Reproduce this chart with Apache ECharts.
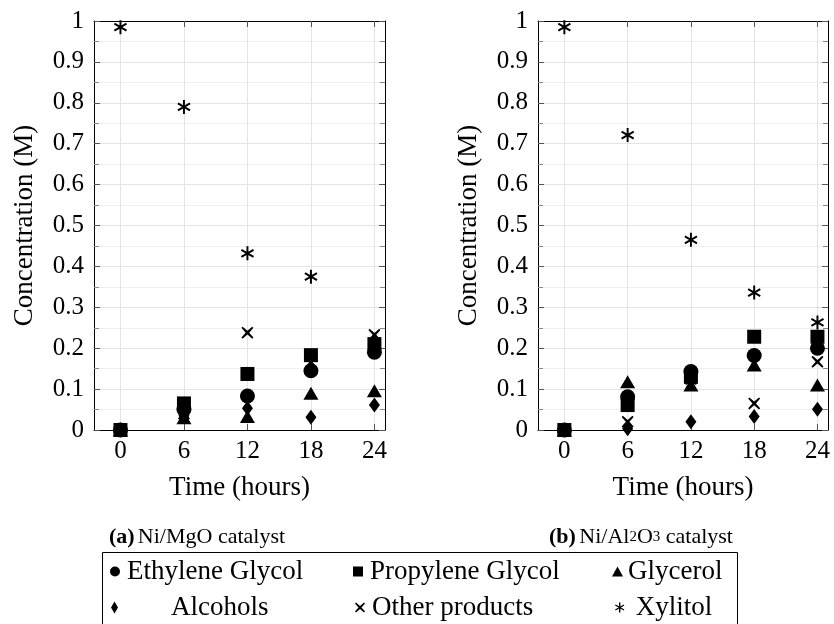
<!DOCTYPE html>
<html><head><meta charset="utf-8">
<script src="https://cdn.jsdelivr.net/npm/echarts@6/dist/echarts.min.js"></script>
<style>html,body{margin:0;padding:0;background:#fff}#c{width:834px;height:624px}</style>
</head><body><div id="c"></div>
<script>
// ---- data ----
const times = [0, 6, 12, 18, 24];
const xTicks = [0, 6, 12, 18, 24];
const seriesNames = ['Ethylene Glycol', 'Propylene Glycol', 'Glycerol', 'Alcohols', 'Other products', 'Xylitol'];
// (a) Ni/MgO
const mgoEthylene  = [0, 0.050, 0.083, 0.145, 0.190];
const mgoPropylene = [0, 0.065, 0.137, 0.183, 0.210];
const mgoGlycerol  = [0, 0.030, 0.033, 0.090, 0.096];
const mgoAlcohols  = [0, 0.035, 0.053, 0.031, 0.061];
const mgoOther     = [0, 0.040, 0.238, 0.165, 0.233];
const mgoXylitol   = [0.985, 0.790, 0.432, 0.375, 0.215];
// (b) Ni/Al2O3
const alEthylene  = [0, 0.081, 0.143, 0.182, 0.200];
const alPropylene = [0, 0.061, 0.130, 0.228, 0.228];
const alGlycerol  = [0, 0.118, 0.110, 0.159, 0.110];
const alAlcohols  = [0, 0.003, 0.020, 0.033, 0.051];
const alOther     = [0, 0.020, 0.125, 0.065, 0.167];
const alXylitol   = [0.985, 0.721, 0.465, 0.336, 0.263];

const panels = [
  [mgoEthylene, mgoPropylene, mgoGlycerol, mgoAlcohols, mgoOther, mgoXylitol],
  [alEthylene, alPropylene, alGlycerol, alAlcohols, alOther, alXylitol]
];

// ---- style ----
const FONT = '"Liberation Serif", "DejaVu Serif", serif';
const CROSS = 'path://M1,0L5,3.5L9,0L10,1L6.5,5L10,9L9,10L5,6.5L1,10L0,9L3.5,5L0,1Z';
const AST = 'path://M-0.7,-5L0.7,-5L0.7,5L-0.7,5Z M4.68,1.894L3.98,3.106L-4.68,-1.894L-3.98,-3.106Z M3.98,-3.106L4.68,-1.894L-3.98,3.106L-4.68,1.894Z';
const symbols = ['circle', 'rect', 'triangle', 'diamond', CROSS, AST];
const sizes = [15, 14, [15, 13], [11, 15], 12, 14];

const grids = [
  {left: 94, top: 21, width: 291, height: 409},
  {left: 538, top: 21, width: 290, height: 409}
];

function xAx(g, bottom) {
  return {
    type: 'value', gridIndex: g, position: bottom ? 'bottom' : 'top',
    min: -2.5, max: 25,
    name: bottom ? 'Time (hours)' : '', nameLocation: 'middle', nameGap: 44,
    nameTextStyle: {fontFamily: FONT, fontSize: 27, color: '#000'},
    axisLine: {show: true, onZero: false, lineStyle: {color: '#000', width: 1}},
    axisTick: {show: true, inside: true, length: 6, customValues: xTicks, lineStyle: {color: '#555'}},
    axisLabel: {show: bottom, customValues: xTicks, fontFamily: FONT, fontSize: 25, color: '#000', margin: 9},
    splitLine: {show: bottom, lineStyle: {color: '#e4e4e4', width: 1}}
  };
}
function yAx(g, left) {
  return {
    type: 'value', gridIndex: g, position: left ? 'left' : 'right',
    min: 0, max: 1, interval: 0.1,
    name: left ? 'Concentration (M)' : '', nameLocation: 'middle', nameGap: 56,
    nameTextStyle: {fontFamily: FONT, fontSize: 27, color: '#000'},
    axisLine: {show: true, onZero: false, lineStyle: {color: '#000', width: 1}},
    axisTick: {show: true, inside: true, length: 6, lineStyle: {color: '#555'}},
    minorTick: {show: true, splitNumber: 2, length: 5, lineStyle: {color: '#888'}},
    axisLabel: {show: left, fontFamily: FONT, fontSize: 25, color: '#000', margin: 10},
    splitLine: {show: left, lineStyle: {color: '#e4e4e4', width: 1}},
    minorSplitLine: {show: left, lineStyle: {color: '#efefef', width: 1}}
  };
}

const series = [];
panels.forEach((vals, p) => {
  vals.forEach((arr, i) => {
    series.push({
      type: 'scatter', name: seriesNames[i],
      xAxisIndex: p * 2, yAxisIndex: p * 2,
      symbol: symbols[i], symbolSize: sizes[i], symbolKeepAspect: true,
      itemStyle: {color: '#000', opacity: 1},
      emphasis: {disabled: true},
      data: times.map((t, k) => [t, arr[k]])
    });
  });
});

function leg(name, left, top, iw, ih, pad) {
  return {
    data: [name], left: left, top: top, padding: 0, itemWidth: iw, itemHeight: ih,
    selectedMode: false, itemStyle: {color: '#000', opacity: 1},
    textStyle: {fontFamily: FONT, fontSize: 27, color: '#000', padding: [0, 0, 0, pad]}
  };
}

const option = {
  animation: false,
  backgroundColor: '#fff',
  grid: grids,
  xAxis: [xAx(0, true), xAx(0, false), xAx(1, true), xAx(1, false)],
  yAxis: [yAx(0, true), yAx(0, false), yAx(1, true), yAx(1, false)],
  legend: [
    leg(seriesNames[0], 110, 558, 10, 10, 2),
    leg(seriesNames[1], 353, 558, 10, 10, 2),
    leg(seriesNames[2], 612, 558, 11, 10, 0),
    leg(seriesNames[3], 111, 594, 7, 12, 48),
    leg(seriesNames[4], 355, 594, 10, 10, 2),
    leg(seriesNames[5], 615, 594, 10, 10, 6)
  ],
  graphic: [
    {type: 'rect', shape: {x: 102.5, y: 552.5, width: 635, height: 120},
     style: {fill: 'none', stroke: '#000', lineWidth: 1}, silent: true},
    {type: 'text', x: 197, y: 537, style: {
      text: '{b|(a)} {n|Ni/MgO catalyst}', align: 'center', verticalAlign: 'middle',
      rich: {b: {fontFamily: FONT, fontSize: 22, fontWeight: 'bold', fill: '#000'},
             n: {fontFamily: FONT, fontSize: 22, fill: '#000'}}}},
    {type: 'text', x: 641, y: 537, style: {
      text: '{b|(b)} {n|Ni/Al}{s|2}{n|O}{s|3}{n| catalyst}', align: 'center', verticalAlign: 'middle',
      rich: {b: {fontFamily: FONT, fontSize: 22, fontWeight: 'bold', fill: '#000', lineHeight: 26},
             n: {fontFamily: FONT, fontSize: 22, fill: '#000', lineHeight: 26},
             s: {fontFamily: FONT, fontSize: 15, fill: '#000', lineHeight: 5}}}}
  ],
  series: series
};
echarts.init(document.getElementById('c'), null, {renderer: 'canvas'}).setOption(option);
</script></body></html>
